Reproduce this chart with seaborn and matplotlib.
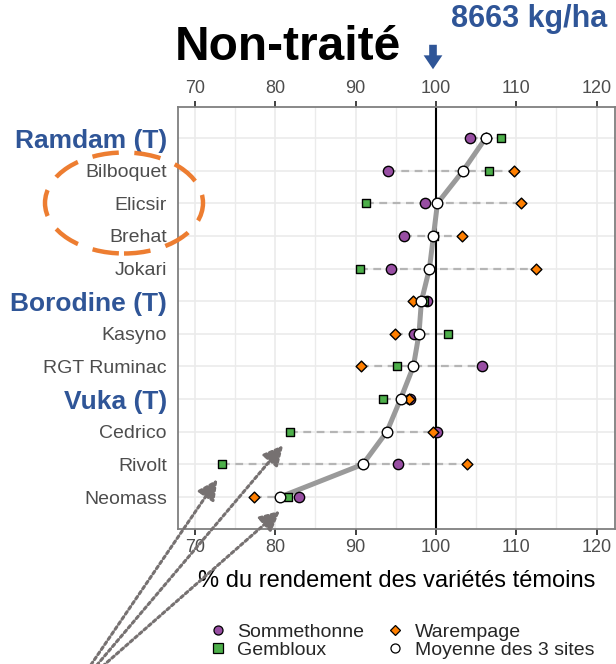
import matplotlib
matplotlib.use("Agg")
import matplotlib.pyplot as plt
import seaborn as sns
import pandas as pd
from matplotlib.patches import Ellipse, FancyArrowPatch
from matplotlib.lines import Line2D

varietes = ["Ramdam (T)", "Bilboquet", "Elicsir", "Brehat", "Jokari",
            "Borodine (T)", "Kasyno", "RGT Ruminac", "Vuka (T)",
            "Cedrico", "Rivolt", "Neomass"]
temoins = ["Ramdam (T)", "Borodine (T)", "Vuka (T)"]

sommethonne = [104.2, 94.1, 98.6, 96.0, 94.4, 98.9, 97.3, 105.7, 96.8, 100.1, 95.3, 83.0]
gembloux = [108.1, 106.6, 91.3, 99.8, 90.6, 98.5, 101.5, 95.2, 93.4, 81.8, 73.4, 81.6]
warempage = [106.2, 109.7, 110.6, 103.3, 112.5, 97.2, 94.9, 90.7, 96.6, 99.7, 103.9, 77.3]
moyenne = [106.2, 103.4, 100.2, 99.7, 99.2, 98.2, 97.9, 97.2, 95.6, 93.9, 90.9, 80.6]

sites = ["Sommethonne", "Gembloux", "Warempage", "Moyenne des 3 sites"]
couleurs = {"Sommethonne": "#984EA3", "Gembloux": "#4DAF4A",
            "Warempage": "#FF7F00", "Moyenne des 3 sites": "white"}
marqueurs = {"Sommethonne": "o", "Gembloux": "s",
             "Warempage": "D", "Moyenne des 3 sites": "o"}
tailles = {"Sommethonne": 55, "Gembloux": 36, "Warempage": 30, "Moyenne des 3 sites": 58}

BLEU = "#2F5597"
GRIS = "#4D4D4D"

df = pd.DataFrame({"variete": varietes, "Sommethonne": sommethonne,
                   "Gembloux": gembloux, "Warempage": warempage,
                   "Moyenne des 3 sites": moyenne})
df["pos"] = range(len(df))
long = df.melt(id_vars=["variete", "pos"], var_name="site", value_name="pct")

sns.set_theme(style="white")
plt.rcParams["font.family"] = ["Liberation Sans", "DejaVu Sans"]

fig = plt.figure(figsize=(6.16, 6.64), dpi=100)
ax = fig.add_axes([178 / 616, 1 - 529 / 664, (615 - 178) / 616, (529 - 107) / 664])

# etendue entre sites (pointilles gris)
mesures = df[["Sommethonne", "Gembloux", "Warempage"]]
ax.hlines(df["pos"], mesures.min(axis=1), mesures.max(axis=1),
          colors="#B5B5B5", linestyles=(0, (3.5, 2.5)), lw=1.6, zorder=2)

ax.axvline(100, color="black", lw=1.5, zorder=2.5)

# ligne des moyennes
sns.lineplot(data=df, x="Moyenne des 3 sites", y="pos", sort=False, estimator=None,
             color="#9A9A9A", lw=3.6, ax=ax, zorder=3)

for site in sites:
    sous = long[long["site"] == site]
    sns.scatterplot(data=sous, x="pct", y="pos", color=couleurs[site],
                    marker=marqueurs[site], s=tailles[site], edgecolor="black",
                    linewidth=1.0, ax=ax, zorder=4, legend=False)

ax.set_xlim(67.9, 122.3)
ax.set_ylim(11.98, -0.95)
ax.set_xticks([70, 80, 90, 100, 110, 120])
ax.set_xticks([75, 85, 95, 105, 115], minor=True)
ax.set_yticks(df["pos"])
ax.set_yticklabels(varietes)
ax.grid(True, which="major", color="#EBEBEB", lw=1.2, zorder=0)
ax.grid(True, which="minor", axis="x", color="#EBEBEB", lw=1.0, zorder=0)
ax.set_axisbelow(True)

for lab in ax.get_yticklabels():
    if lab.get_text() in temoins:
        lab.set_color(BLEU)
        lab.set_fontweight("bold")
        lab.set_fontsize(19)
    else:
        lab.set_color(GRIS)
        lab.set_fontsize(14)

ax.tick_params(axis="x", which="major", top=True, labeltop=True, bottom=True,
               labelbottom=True, length=4, width=1.3, color="#333333",
               labelcolor=GRIS, labelsize=13, pad=3.5)
ax.tick_params(axis="x", which="minor", length=0)
ax.tick_params(axis="y", length=4, width=1.3, color="#333333", pad=4)
ax.set_xlabel("% du rendement des variétés témoins", fontsize=17, color="black", labelpad=10)
ax.set_ylabel("")
for sp in ax.spines.values():
    sp.set_color("#7F7F7F")
    sp.set_linewidth(1.3)

# titre et rendement de reference
fig.text(288 / 616, 1 - 60 / 664, "Non-traité", fontsize=34.5, fontweight="bold",
         ha="center", va="baseline", color="black")
fig.text(529 / 616, 1 - 27 / 664, "8663 kg/ha", fontsize=22, fontweight="bold",
         ha="center", va="baseline", color=BLEU)
fig.add_artist(FancyArrowPatch((433 / 616, 1 - 42 / 664), (433 / 616, 1 - 72 / 664),
                               transform=fig.transFigure, mutation_scale=1,
                               arrowstyle="simple,head_width=13.5,head_length=10,tail_width=5.5",
                               color=BLEU, lw=0))

# ellipse orange
fig.add_artist(Ellipse((124 / 616, 1 - 203 / 664), 158 / 616, 101 / 664,
                       transform=fig.transFigure, fill=False, edgecolor="#ED7D31",
                       lw=3.2, linestyle=(0, (6, 3.5))))

# fleches pointillees
for tete, queue in [((219, 477), (86, 672)), ((285, 443), (91, 672)), ((282, 509), (96, 672))]:
    fig.add_artist(FancyArrowPatch((queue[0] / 616, 1 - queue[1] / 664),
                                   (tete[0] / 616, 1 - tete[1] / 664),
                                   transform=fig.transFigure, mutation_scale=1,
                                   arrowstyle="-|>,head_width=6,head_length=12",
                                   color="#767171", lw=2.2, linestyle=(0, (1, 1))))

poignees = [Line2D([], [], ls="", marker=marqueurs[s], markerfacecolor=couleurs[s],
                   markeredgecolor="black", markeredgewidth=0.9,
                   markersize=6.5 if s != "Warempage" else 5.5) for s in sites]
fig.legend(poignees, sites, ncol=2, loc="upper left",
           bbox_to_anchor=(208 / 616, 1 - 623 / 664), frameon=False, fontsize=14,
           handlelength=1.0, handletextpad=0.5, columnspacing=1.1,
           labelspacing=0.03, borderpad=0, borderaxespad=0)

fig.savefig("out.png", dpi=100)
